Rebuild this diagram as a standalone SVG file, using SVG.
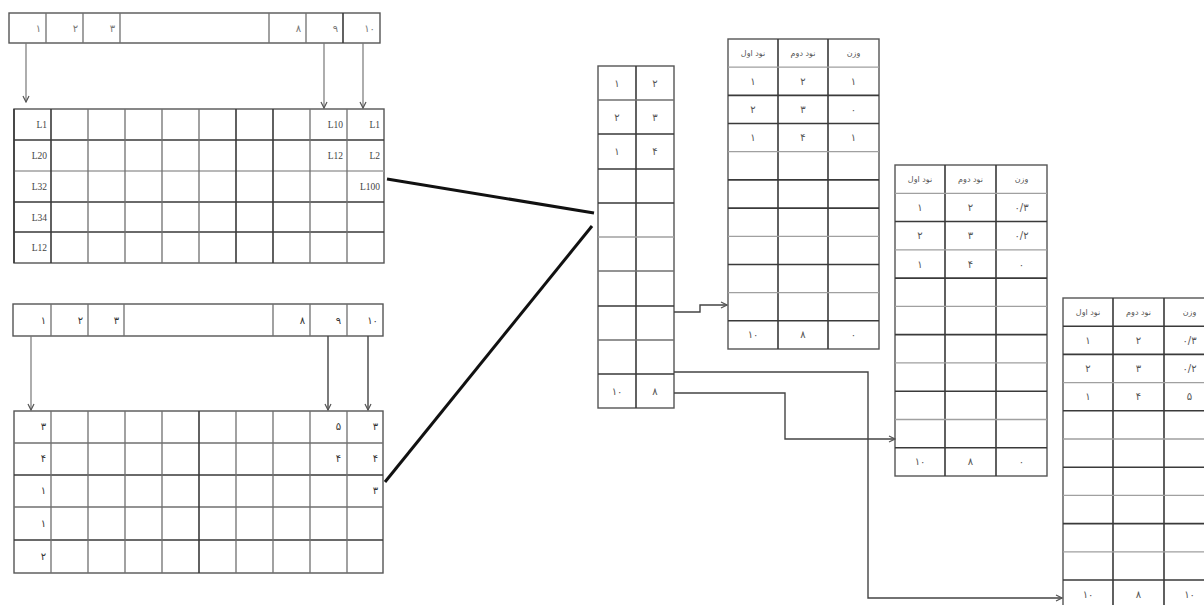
<svg xmlns="http://www.w3.org/2000/svg" width="1204" height="605" viewBox="0 0 1204 605">
<style>
.bx{fill:#fff;stroke:#555;stroke-width:1.4}
.g{stroke:#707070;stroke-width:1.3;fill:none}
.d{stroke:#3a3a3a;stroke-width:1.6;fill:none}
.l{stroke:#a0a0a0;stroke-width:1.3;fill:none}
.fa{font-family:"DejaVu Sans","Noto Sans",sans-serif;font-size:10px;fill:#555}
.fa2{font-family:"DejaVu Sans","Noto Sans",sans-serif;font-size:10px;fill:#333}
.lt{font-family:"Liberation Serif",serif;font-size:9.5px;fill:#444;text-anchor:end}
.e{text-anchor:end}
.m{text-anchor:middle}
.hd{font-family:"DejaVu Sans","Noto Sans",sans-serif;font-size:8px;fill:#555;text-anchor:middle}
.ar{stroke:#777;stroke-width:1.2;fill:none}
.ard{stroke:#444;stroke-width:1.4;fill:none}
.thick{stroke:#111;stroke-width:3;fill:none}
</style>
<defs>
<marker id="ah" markerWidth="8" markerHeight="8" refX="7" refY="4" orient="auto" markerUnits="userSpaceOnUse"><path d="M1,1 L7,4 L1,7" fill="none" stroke="#555" stroke-width="1.2"/></marker>
</defs>

<g id="array-top">
<rect class="bx" x="9" y="13" width="371" height="30"/>
<path class="g" d="M46,13V43M83,13V43M120,13V43M269,13V43M306,13V43"/>
<path class="d" d="M343,13V43"/>
<text class="fa e" x="41" y="32" style="fill:#777">۱</text>
<text class="fa e" x="78" y="32" style="fill:#777">۲</text>
<text class="fa e" x="115" y="32" style="fill:#777">۳</text>
<text class="fa e" x="301" y="32" style="fill:#777">۸</text>
<text class="fa e" x="338" y="32" style="fill:#777">۹</text>
<text class="fa e" x="375" y="32" style="fill:#777">۱۰</text>
</g>

<g id="table-top">
<rect class="bx" x="14" y="109" width="370" height="154"/>
<path class="d" d="M14,140H384M14,202H384M14,232H384"/>
<path class="l" d="M14,171H384"/>
<path class="g" d="M88,109V263M125,109V263M162,109V263M199,109V263M310,109V263M347,109V263"/>
<path class="d" d="M14,109V263M51,109V263M236,109V263M273,109V263"/>
<text class="lt" x="47" y="128">L1</text>
<text class="lt" x="47" y="159">L20</text>
<text class="lt" x="47" y="190">L32</text>
<text class="lt" x="47" y="221">L34</text>
<text class="lt" x="47" y="251">L12</text>
<text class="lt" x="343" y="128">L10</text>
<text class="lt" x="343" y="159">L12</text>
<text class="lt" x="380" y="128">L1</text>
<text class="lt" x="380" y="159">L2</text>
<text class="lt" x="380" y="190">L100</text>
</g>

<g id="array-bottom">
<rect class="bx" x="13" y="304" width="370" height="32"/>
<path class="g" d="M51,304V336M88,304V336M124,304V336M273,304V336M310,304V336M347,304V336"/>
<text class="fa2 e" x="46" y="324">۱</text>
<text class="fa2 e" x="83" y="324">۲</text>
<text class="fa2 e" x="119" y="324">۳</text>
<text class="fa2 e" x="305" y="324">۸</text>
<text class="fa2 e" x="341" y="324">۹</text>
<text class="fa2 e" x="378" y="324">۱۰</text>
</g>

<g id="table-bottom">
<rect class="bx" x="14" y="411" width="369" height="162"/>
<path class="g" d="M14,443H383M14,507H383"/>
<path class="d" d="M14,475H383M14,540H383"/>
<path class="g" d="M51,411V573M88,411V573M125,411V573M162,411V573M236,411V573M273,411V573M310,411V573M347,411V573"/>
<path class="d" d="M199,411V573"/>
<text class="fa2 e" x="46" y="430">۳</text>
<text class="fa2 e" x="46" y="462">۴</text>
<text class="fa2 e" x="46" y="494">۱</text>
<text class="fa2 e" x="46" y="527">۱</text>
<text class="fa2 e" x="46" y="560">۲</text>
<text class="fa2 e" x="341" y="430">۵</text>
<text class="fa2 e" x="341" y="462">۴</text>
<text class="fa2 e" x="378" y="430">۳</text>
<text class="fa2 e" x="378" y="462">۴</text>
<text class="fa2 e" x="378" y="494">۳</text>
</g>

<g id="table-mid">
<rect class="bx" x="598" y="66" width="76" height="342"/>
<path class="d" d="M636,66V408"/>
<path class="g" d="M598,100H674M598,271H674M598,340H674"/>
<path class="d" d="M598,134H674M598,169H674M598,203H674M598,306H674M598,374H674"/>
<path class="l" d="M598,237H674"/>
<text class="fa m" x="617" y="86.5">۱</text>
<text class="fa m" x="655" y="86.5">۲</text>
<text class="fa m" x="617" y="120.5">۲</text>
<text class="fa m" x="655" y="120.5">۳</text>
<text class="fa m" x="617" y="155">۱</text>
<text class="fa m" x="655" y="155">۴</text>
<text class="fa m" x="617" y="394.5">۱۰</text>
<text class="fa m" x="655" y="394.5">۸</text>
</g>

<g id="table-2">
<rect class="bx" x="728" y="39" width="151" height="310"/>
<path class="d" d="M778,39V349M828,39V349"/>
<path class="l" d="M728,67.2H879M728,151.7H879M728,236.3H879M728,292.6H879"/>
<path class="d" d="M728,95.4H879M728,123.5H879M728,179.9H879M728,208.1H879M728,264.5H879M728,320.8H879"/>
<text class="hd" x="753" y="56">نود اول</text>
<text class="hd" x="803" y="56">نود دوم</text>
<text class="hd" x="853.5" y="56">وزن</text>
<text class="fa m" x="753" y="84.5">۱</text>
<text class="fa m" x="803" y="84.5">۲</text>
<text class="fa m" x="853.5" y="84.5">۱</text>
<text class="fa m" x="753" y="112.5">۲</text>
<text class="fa m" x="803" y="112.5">۳</text>
<text class="fa m" x="853.5" y="112.5">۰</text>
<text class="fa m" x="753" y="141">۱</text>
<text class="fa m" x="803" y="141">۴</text>
<text class="fa m" x="853.5" y="141">۱</text>
<text class="fa m" x="753" y="338">۱۰</text>
<text class="fa m" x="803" y="338">۸</text>
<text class="fa m" x="853.5" y="338">۰</text>
</g>

<g id="table-3">
<rect class="bx" x="895" y="165" width="152" height="311"/>
<path class="d" d="M945,165V476M996,165V476"/>
<path class="l" d="M895,193.3H1047M895,249.8H1047M895,306.4H1047M895,362.9H1047M895,419.5H1047"/>
<path class="d" d="M895,221.5H1047M895,278.1H1047M895,334.6H1047M895,391.2H1047M895,447.7H1047"/>
<text class="hd" x="920" y="182">نود اول</text>
<text class="hd" x="970.5" y="182">نود دوم</text>
<text class="hd" x="1021.5" y="182">وزن</text>
<text class="fa m" x="920" y="211">۱</text>
<text class="fa m" x="970.5" y="211">۲</text>
<text class="fa m" x="1021.5" y="211">۰/۳</text>
<text class="fa m" x="920" y="239">۲</text>
<text class="fa m" x="970.5" y="239">۳</text>
<text class="fa m" x="1021.5" y="239">۰/۲</text>
<text class="fa m" x="920" y="267.5">۱</text>
<text class="fa m" x="970.5" y="267.5">۴</text>
<text class="fa m" x="1021.5" y="267.5">۰</text>
<text class="fa m" x="920" y="465">۱۰</text>
<text class="fa m" x="970.5" y="465">۸</text>
<text class="fa m" x="1021.5" y="465">۰</text>
</g>

<g id="table-4">
<rect class="bx" x="1063" y="298" width="152" height="311"/>
<path class="d" d="M1113,298V609M1164,298V609"/>
<path class="l" d="M1063,382.6H1215M1063,439H1215M1063,495.4H1215M1063,551.8H1215"/>
<path class="d" d="M1063,326.2H1215M1063,354.4H1215M1063,410.8H1215M1063,467.2H1215M1063,523.6H1215M1063,580H1215"/>
<text class="hd" x="1088" y="315">نود اول</text>
<text class="hd" x="1138.5" y="315">نود دوم</text>
<text class="hd" x="1189.5" y="315">وزن</text>
<text class="fa m" x="1088" y="344">۱</text>
<text class="fa m" x="1138.5" y="344">۲</text>
<text class="fa m" x="1189.5" y="344">۰/۳</text>
<text class="fa m" x="1088" y="372">۲</text>
<text class="fa m" x="1138.5" y="372">۳</text>
<text class="fa m" x="1189.5" y="372">۰/۲</text>
<text class="fa m" x="1088" y="400">۱</text>
<text class="fa m" x="1138.5" y="400">۴</text>
<text class="fa m" x="1189.5" y="400">۵</text>
<text class="fa m" x="1088" y="597.5">۱۰</text>
<text class="fa m" x="1138.5" y="597.5">۸</text>
<text class="fa m" x="1189.5" y="597.5">۱۰</text>
</g>

<g id="connectors">
<path class="ar" d="M26,43V102" marker-end="url(#ah)"/>
<path class="ar" d="M324,43V108" marker-end="url(#ah)"/>
<path class="ar" d="M363,43V108" marker-end="url(#ah)"/>
<path class="ar" d="M31,336V410" marker-end="url(#ah)"/>
<path class="ard" d="M328,336V410" marker-end="url(#ah)"/>
<path class="ard" d="M368,336V410" marker-end="url(#ah)"/>
<path class="thick" d="M387,179L594,213"/>
<path class="thick" d="M385,482L592,226"/>
<path class="ard" d="M674,312H700V305H727" marker-end="url(#ah)"/>
<path class="ard" d="M674,372H868V598H1062" marker-end="url(#ah)"/>
<path class="ard" d="M674,393H785V439H895" marker-end="url(#ah)"/>
</g>
</svg>
